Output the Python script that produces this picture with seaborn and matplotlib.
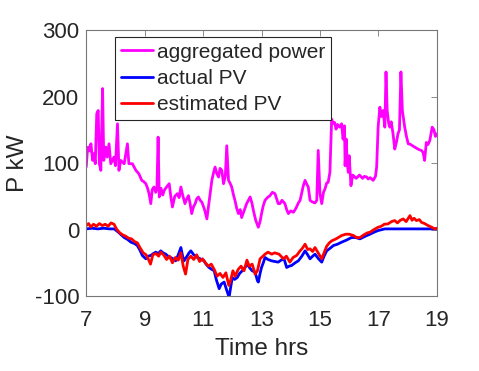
import numpy as np
import pandas as pd
import seaborn as sns
import matplotlib.pyplot as plt

# aggregated power (kW)
agg_t = [7.00, 7.04, 7.07, 7.12, 7.16, 7.22, 7.26, 7.31, 7.36, 7.41,
         7.45, 7.50, 7.56, 7.60, 7.67, 7.72, 7.78, 7.84, 7.95, 8.00,
         8.07, 8.12, 8.18, 8.30, 8.41, 8.46, 8.58, 8.70, 8.80, 8.90,
         8.97, 9.04, 9.10, 9.15, 9.21, 9.26, 9.32, 9.38, 9.42, 9.46,
         9.50, 9.56, 9.62, 9.67, 9.75, 9.84, 9.90, 9.95, 10.03, 10.12,
         10.18, 10.24, 10.30, 10.38, 10.44, 10.50, 10.55, 10.61, 10.67, 10.73,
         10.78, 10.84, 10.90, 10.96, 11.05, 11.13, 11.20, 11.30, 11.36, 11.41,
         11.47, 11.53, 11.58, 11.64, 11.70, 11.76, 11.81, 11.87, 11.92, 11.98,
         12.04, 12.09, 12.15, 12.21, 12.27, 12.32, 12.40, 12.49, 12.55, 12.61,
         12.67, 12.72, 12.80, 12.89, 12.95, 13.00, 13.06, 13.12, 13.20, 13.29,
         13.37, 13.46, 13.52, 13.57, 13.63, 13.70, 13.80, 13.86, 13.92, 14.00,
         14.09, 14.15, 14.20, 14.26, 14.32, 14.37, 14.43, 14.49, 14.55, 14.60,
         14.66, 14.72, 14.77, 14.83, 14.89, 14.94, 15.00, 15.06, 15.12, 15.17,
         15.23, 15.28, 15.34, 15.40, 15.45, 15.50, 15.55, 15.60, 15.67, 15.74,
         15.79, 15.84, 15.86, 15.90, 15.93, 15.97, 16.00, 16.06, 16.12, 16.24,
         16.35, 16.46, 16.52, 16.60, 16.65, 16.72, 16.82, 16.90, 16.94, 16.99,
         17.05, 17.10, 17.16, 17.22, 17.26, 17.30, 17.35, 17.39, 17.44, 17.50,
         17.56, 17.62, 17.67, 17.72, 17.77, 17.82, 17.86, 17.90, 17.96, 18.02,
         18.10, 18.17, 18.24, 18.32, 18.40, 18.47, 18.53, 18.58, 18.64, 18.70,
         18.76, 18.84, 18.90, 18.95, 19.00]
agg_p = [94, 118, 124, 118, 129, 104, 114, 99, 174, 179,
         99, 89, 212, 104, 124, 109, 129, 99, 109, 96,
         159, 89, 104, 99, 129, 99, 99, 89, 84, 74,
         72, 69, 62, 54, 39, 60, 64, 56, 62, 139,
         49, 62, 52, 59, 64, 69, 48, 34, 50, 54,
         48, 64, 52, 39, 46, 51, 40, 24, 34, 39,
         46, 49, 44, 41, 30, 16, 40, 74, 86, 94,
         84, 79, 92, 89, 69, 80, 126, 74, 70, 64,
         52, 44, 32, 24, 30, 18, 28, 39, 44, 49,
         40, 29, 14, 3.5, 12, 24, 36, 44, 48, 51,
         56, 54, 46, 39, 39, 44, 39, 30, 24, 28,
         26, 30, 34, 40, 44, 54, 66, 74, 68, 64,
         44, 42, 41, 40, 44, 119, 54, 39, 56, 61,
         70, 71, 86, 166, 160, 161, 151, 158, 154, 159,
         136, 156, 96, 136, 100, 86, 111, 66, 82, 77,
         82, 77, 80, 79, 76, 78, 74, 80, 94, 154,
         184, 170, 179, 154, 237, 179, 160, 154, 162, 144,
         121, 132, 144, 150, 237, 179, 166, 154, 140, 129,
         128, 126, 124, 122, 120, 119, 116, 104, 131, 128,
         134, 154, 150, 140, 144]

# actual PV (kW)
act_t = [7.00, 7.20, 7.40, 7.60, 7.80, 7.96, 8.10, 8.20, 8.30, 8.42, 8.53, 8.65, 8.75, 8.85, 8.92,
         9.04, 9.12, 9.21, 9.30, 9.38, 9.47, 9.55, 9.63, 9.72, 9.80, 9.89, 9.97, 10.06, 10.15, 10.24,
         10.30, 10.35, 10.45, 10.52, 10.58, 10.68, 10.80, 10.90, 11.03, 11.10, 11.20, 11.30, 11.38,
         11.45, 11.55, 11.62, 11.72, 11.80, 11.89, 11.95, 12.00, 12.08, 12.17, 12.25, 12.34, 12.42,
         12.51, 12.60, 12.68, 12.78, 12.86, 12.89, 12.95, 13.00, 13.06, 13.12, 13.22, 13.34, 13.45,
         13.57, 13.67, 13.77, 13.86, 13.95, 14.03, 14.15, 14.26, 14.38, 14.49, 14.58, 14.66, 14.75,
         14.83, 14.95, 15.06, 15.14, 15.23, 15.35, 15.46, 15.60, 15.74, 15.90, 16.08, 16.22, 16.37,
         16.55, 16.71, 16.85, 16.99, 17.22, 17.50, 18.00, 18.50, 19.00]
act_p = [1, 2, 1, 2, 1, 1, -4, -8, -12, -15, -19, -21, -24, -32, -39,
         -44, -40, -39, -36, -34, -36, -32, -35, -37, -40, -42, -44, -47, -38, -27,
         -40, -47, -40, -35, -32, -38, -42, -44, -47, -52, -57, -60, -62,
         -75, -89, -82, -79, -90, -102, -85, -72, -75, -72, -66, -62, -58,
         -52, -58, -62, -64, -77, -79, -66, -57, -50, -42, -45, -47, -48,
         -49, -46, -44, -57, -55, -54, -50, -47, -40, -32, -38, -44, -40,
         -37, -44, -49, -40, -32, -28, -24, -22, -19, -16, -12, -12, -14,
         -10, -7, -4, -1.5, 1, 1, 1, 1, 1]

# estimated PV (kW)
est_t = [7.00, 7.08, 7.16, 7.25, 7.35, 7.45, 7.55, 7.65, 7.75, 7.85, 7.95, 8.05, 8.15, 8.25, 8.35,
         8.45, 8.55, 8.65, 8.75, 8.85, 8.95, 9.05, 9.12, 9.20, 9.28, 9.38, 9.48, 9.55, 9.65, 9.75,
         9.85, 9.95, 10.05, 10.15, 10.24, 10.32, 10.40, 10.48, 10.58, 10.68, 10.78, 10.88, 10.98,
         11.08, 11.18, 11.28, 11.38, 11.48, 11.58, 11.68, 11.78, 11.88, 11.95, 12.02, 12.10, 12.20,
         12.30, 12.40, 12.50, 12.58, 12.68, 12.78, 12.86, 12.95, 13.05, 13.12, 13.22, 13.35, 13.45,
         13.60, 13.75, 13.85, 13.97, 14.08, 14.20, 14.32, 14.40, 14.49, 14.58, 14.66, 14.75, 14.83,
         14.95, 15.06, 15.14, 15.23, 15.32, 15.40, 15.55, 15.74, 15.88, 16.00, 16.15, 16.25, 16.37,
         16.50, 16.62, 16.71, 16.85, 16.99, 17.10, 17.20, 17.33, 17.45, 17.56, 17.65, 17.75, 17.85,
         17.95, 18.08, 18.15, 18.22, 18.30, 18.40, 18.47, 18.58, 18.70, 18.80, 18.93, 19.00]
est_p = [6, 9, 4, 8, 5, 9, 6, 8, 5, 10, 8, 0, -5, -8, -10,
         -13, -14, -18, -20, -28, -35, -38, -44, -52, -38, -36, -40, -34, -38, -45,
         -40, -50, -42, -46, -35, -55, -67, -45, -40, -45, -38, -48, -44,
         -50, -55, -52, -60, -70, -66, -72, -65, -84, -75, -62, -70, -60,
         -55, -62, -46, -55, -52, -67, -62, -44, -40, -37, -34, -37, -35,
         -37, -44, -40, -49, -42, -39, -32, -28, -22, -30, -29, -33, -27,
         -36, -44, -35, -25, -20, -17, -14, -9, -7, -7, -9, -12, -12,
         -8, -5, -4, 0, 3.5, 5, 8, 8.5, 12, 13.5, 10, 14, 16,
         12, 21, 14, 17, 13.5, 15, 11, 9, 6, 4, 1, 2]

sns.set_style('white')
plt.rcParams['font.family'] = ['Liberation Sans', 'DejaVu Sans']
plt.rcParams['axes.unicode_minus'] = False

fig = plt.figure(figsize=(4.79, 3.71), dpi=100)
ax = fig.add_axes([0.18, 0.202, 0.732, 0.717])

sns.lineplot(x=agg_t, y=agg_p, color='#ff00ff', linewidth=2.0, estimator=None, sort=False,
             label='aggregated power', ax=ax)
sns.lineplot(x=act_t, y=act_p, color='#0000ff', linewidth=2.0, estimator=None, sort=False,
             label='actual PV', ax=ax)
sns.lineplot(x=est_t, y=est_p, color='#ff0000', linewidth=2.0, estimator=None, sort=False,
             label='estimated PV', ax=ax)

ax.set_xlim(7, 19)
ax.set_ylim(-100, 300)
ax.set_xticks(np.arange(7, 20, 2))
ax.set_yticks(np.arange(-100, 301, 100))
ax.tick_params(direction='in', length=4, width=0.6, colors='#777777', labelcolor='#262626',
               labelsize=16, top=True, right=True)
ax.tick_params(axis='x', pad=10)
ax.tick_params(axis='y', pad=5)
for s in ax.spines.values():
    s.set_color('#777777')
    s.set_linewidth(0.8)

ax.set_xlabel('Time hrs', fontsize=17.5, color='#262626', labelpad=5)
ax.set_ylabel('P kW', fontsize=17.5, color='#262626', labelpad=4)

leg = ax.legend(loc='upper left', bbox_to_anchor=(0.083, 0.975), borderaxespad=0, fontsize=15,
                handlelength=1.55, handletextpad=0.15, labelspacing=0.35, borderpad=0.28,
                fancybox=False, framealpha=1, edgecolor='#262626')
leg.get_frame().set_linewidth(0.8)
for t in leg.get_texts():
    t.set_color('#262626')

plt.savefig('out.png', dpi=100)
